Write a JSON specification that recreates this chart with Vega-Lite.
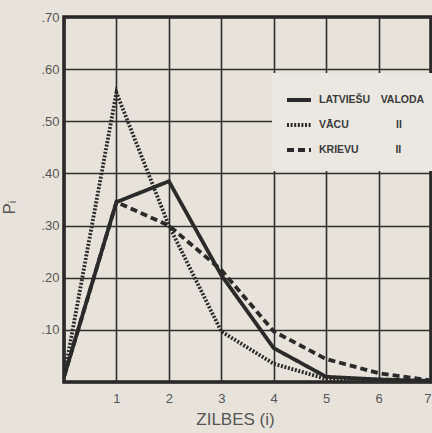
{
  "$schema": "https://vega.github.io/schema/vega-lite/v6.json",
  "width": 367,
  "height": 365,
  "autosize": "none",
  "padding": {"left": 64, "top": 17, "right": 1, "bottom": 51},
  "background": "#e7e3db",
  "config": {
    "view": {"stroke": "#222222", "strokeWidth": 3.5, "fill": "#e7e3db"},
    "font": "Liberation Sans"
  },
  "data": {
    "values": [
      {"i": 0, "p": 0.01, "lang": "LV"},
      {"i": 1, "p": 0.345, "lang": "LV"},
      {"i": 2, "p": 0.385, "lang": "LV"},
      {"i": 3, "p": 0.205, "lang": "LV"},
      {"i": 4, "p": 0.065, "lang": "LV"},
      {"i": 5, "p": 0.01, "lang": "LV"},
      {"i": 6, "p": 0.005, "lang": "LV"},
      {"i": 7, "p": 0.002, "lang": "LV"},
      {"i": 0, "p": 0.01, "lang": "DE"},
      {"i": 1, "p": 0.555, "lang": "DE"},
      {"i": 2, "p": 0.30, "lang": "DE"},
      {"i": 3, "p": 0.097, "lang": "DE"},
      {"i": 4, "p": 0.035, "lang": "DE"},
      {"i": 5, "p": 0.006, "lang": "DE"},
      {"i": 6, "p": 0.003, "lang": "DE"},
      {"i": 7, "p": 0.001, "lang": "DE"},
      {"i": 0, "p": 0.01, "lang": "RU"},
      {"i": 1, "p": 0.345, "lang": "RU"},
      {"i": 2, "p": 0.30, "lang": "RU"},
      {"i": 3, "p": 0.215, "lang": "RU"},
      {"i": 4, "p": 0.097, "lang": "RU"},
      {"i": 5, "p": 0.044, "lang": "RU"},
      {"i": 6, "p": 0.017, "lang": "RU"},
      {"i": 7, "p": 0.003, "lang": "RU"}
    ]
  },
  "mark": {"type": "line", "color": "#2a2a2a", "strokeWidth": 3.8, "strokeJoin": "miter", "clip": true},
  "encoding": {
    "x": {
      "field": "i",
      "type": "quantitative",
      "scale": {"domain": [0, 7], "nice": false, "zero": false},
      "axis": {
        "values": [0, 1, 2, 3, 4, 5, 6, 7],
        "labelExpr": "datum.value == 0 ? '' : datum.label",
        "domain": false,
        "ticks": false,
        "grid": true,
        "gridColor": "#2e2e2e",
        "gridWidth": 1.6,
        "gridOpacity": 1,
        "labelFontSize": 13,
        "labelColor": "#555555",
        "labelPadding": 10,
        "labelFlush": true,
        "title": "ZILBES (i)",
        "titleFontSize": 17,
        "titleFontWeight": "normal",
        "titleColor": "#555555",
        "titleX": 171,
        "titleY": 42,
        "titleAnchor": "middle",
        "titleBaseline": "alphabetic"
      }
    },
    "y": {
      "field": "p",
      "type": "quantitative",
      "scale": {"domain": [0, 0.7], "nice": false},
      "axis": {
        "values": [0, 0.1, 0.2, 0.3, 0.4, 0.5, 0.6, 0.7],
        "labelExpr": "datum.value == 0 ? '' : replace(format(datum.value, '.2f'), '0.', '.')",
        "domain": false,
        "ticks": false,
        "grid": true,
        "gridColor": "#2e2e2e",
        "gridWidth": 1.6,
        "gridOpacity": 1,
        "labelFontSize": 13,
        "labelColor": "#555555",
        "labelPadding": 5,
        "labelFlush": false,
        "title": "Pᵢ",
        "titleFontSize": 17,
        "titleFontWeight": "normal",
        "titleColor": "#555555",
        "titleX": -46,
        "titleY": 190,
        "titleAngle": -90
      }
    },
    "strokeDash": {
      "field": "lang",
      "type": "nominal",
      "scale": {"domain": ["LV", "DE", "RU"], "range": [[1, 0], [2, 1.6], [7, 4]]},
      "legend": {
        "orient": "none",
        "legendX": 208,
        "legendY": 56,
        "title": null,
        "padding": 13,
        "fillColor": "#ebe8e2",
        "symbolType": "stroke",
        "symbolSize": 576,
        "symbolStrokeWidth": 3.8,
        "symbolStrokeColor": "#2a2a2a",
        "rowPadding": 3,
        "labelOffset": 6,
        "labelFontSize": 10.5,
        "labelFontWeight": "bold",
        "labelColor": "#3a3a3a",
        "labelLimit": 200,
        "labelExpr": "datum.value == 'LV' ? 'LATVIEŠU\u2002\u2002VALODA' : datum.value == 'DE' ? 'VĀCU\u2002\u2002\u2002\u2002\u2002\u2002\u2002\u2002\u2002II' : 'KRIEVU\u2002\u2002\u2002\u2002\u2002\u2002\u2002II'"
      }
    }
  }
}
